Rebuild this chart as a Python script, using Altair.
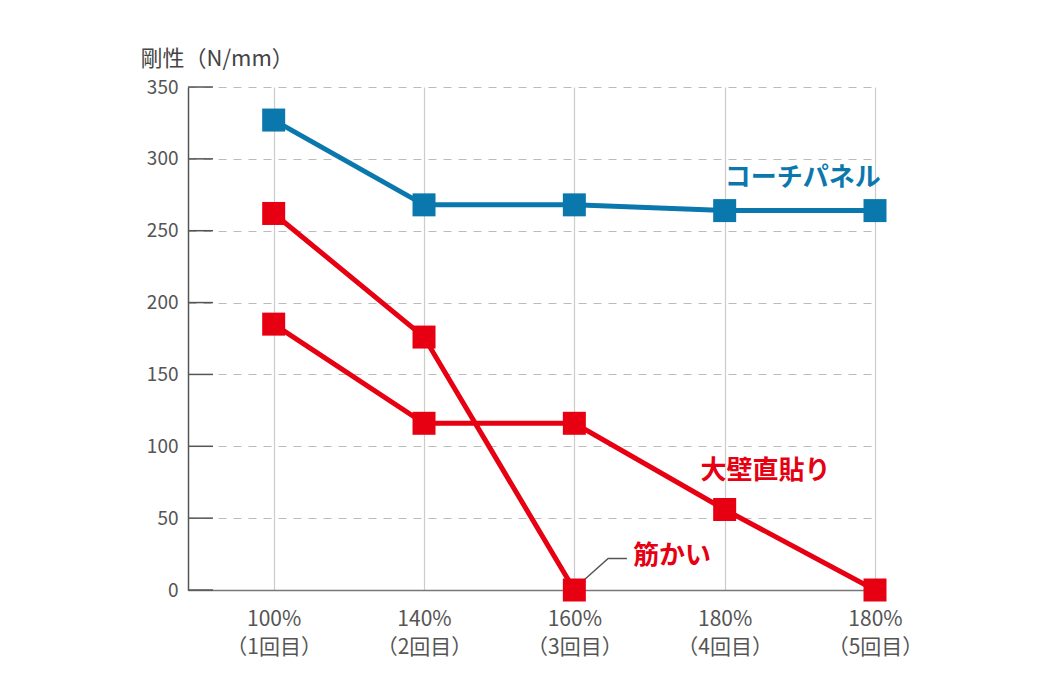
import altair as alt
import pandas as pd

# ---- data ----
pct_labels = ["100%", "140%", "160%", "180%", "180%"]
round_labels = ["（1回目）", "（2回目）", "（3回目）", "（4回目）", "（5回目）"]
coach_panel = [327, 268, 268, 264, 264]
okabe = [185, 116, 116, 56, 0]
sujikai = [262, 176, 0]
y_ticks = [0, 50, 100, 150, 200, 250, 300, 350]

series_names = ["コーチパネル", "大壁直貼り", "筋かい"]
series_vals = [coach_panel, okabe, sujikai]
colors = ["#0b78ad", "#e60012", "#e60012"]

rows = []
for name, vals in zip(series_names, series_vals):
    for i, v in enumerate(vals):
        rows.append({"series": name, "x": i, "y": v})
df = pd.DataFrame(rows)

ann_text = ["コーチパネル", "大壁直貼り", "筋かい"]
ann_x = [3.0, 2.84, 2.39]
ann_y = [287, 83, 24]
ann_color = ["#0b78ad", "#e60012", "#e60012"]
ann_df = pd.DataFrame({"t": ann_text, "x": ann_x, "y": ann_y, "c": ann_color})

leader_x = [2.07, 2.225, 2.35]
leader_y = [7.5, 22, 22]
leader_df = pd.DataFrame({"x": leader_x, "y": leader_y, "o": [0, 1, 2]})

tick_df = pd.DataFrame({"y": y_ticks})

FONT = "Noto Sans CJK JP"

label_expr = "[" + ",".join(
    "['%s','%s']" % (p, r) for p, r in zip(pct_labels, round_labels)
) + "][datum.value]"

xscale = alt.Scale(domain=[-0.57, 4], nice=False, zero=False)
yscale = alt.Scale(domain=[0, 350], nice=False)

x_axis = alt.Axis(
    values=[0, 1, 2, 3, 4], labelExpr=label_expr, title=None,
    grid=True, gridColor="#cccccc", gridWidth=1.2,
    ticks=False, domainColor="#777777", domainWidth=1.5,
    labelFont=FONT, labelFontSize=21, labelColor="#555555",
    labelPadding=18, labelLineHeight=28, labelBaseline="top",
    labelFlush=False, labelOverlap=False, labelBound=False,
)
y_axis = alt.Axis(
    values=y_ticks, title="剛性（N/mm）", titleAngle=0, titleX=-48, titleY=-22,
    titleAlign="left", titleBaseline="alphabetic", titleFont=FONT,
    titleFontSize=22, titleFontWeight="normal", titleColor="#444444",
    grid=True, gridColor="#bbbbbb", gridDash=[8, 7], gridWidth=1.2,
    ticks=False, domainColor="#555555", domainWidth=1.5,
    labelFont=FONT, labelFontSize=19, labelColor="#555555", labelPadding=10,
    labelFlush=False, labelOverlap=False,
)

color_scale = alt.Scale(domain=series_names, range=colors)

base = alt.Chart(df)

lines = base.mark_line(strokeWidth=5).encode(
    x=alt.X("x:Q", scale=xscale, axis=x_axis),
    y=alt.Y("y:Q", scale=yscale, axis=y_axis),
    color=alt.Color("series:N", scale=color_scale, legend=None),
    detail="series:N",
)
points = base.mark_point(shape="square", filled=True, size=529, opacity=1).encode(
    x=alt.X("x:Q", scale=xscale),
    y=alt.Y("y:Q", scale=yscale),
    color=alt.Color("series:N", scale=color_scale, legend=None),
)

inner_ticks = alt.Chart(tick_df).mark_rule(color="#555555", strokeWidth=1.5).encode(
    y=alt.Y("y:Q", scale=yscale),
    x=alt.value(0),
    x2=alt.value(25),
)

leader = alt.Chart(leader_df).mark_line(color="#555555", strokeWidth=1.5).encode(
    x=alt.X("x:Q", scale=xscale),
    y=alt.Y("y:Q", scale=yscale),
    order="o:O",
)

ann = alt.Chart(ann_df).mark_text(
    font=FONT, fontSize=26, fontWeight="bold", align="left", baseline="middle"
).encode(
    x=alt.X("x:Q", scale=xscale),
    y=alt.Y("y:Q", scale=yscale),
    text="t:N",
    color=alt.Color("c:N", scale=None),
)

chart = alt.layer(inner_ticks, lines, leader, points, ann).properties(
    width=687, height=503,
    autosize=alt.AutoSizeParams(type="none"),
    padding={"left": 180, "top": 79, "right": 150, "bottom": 90},
    background="white",
).configure_view(stroke=None)

chart.save("out.html", embed_options={"renderer": "svg", "actions": False})
